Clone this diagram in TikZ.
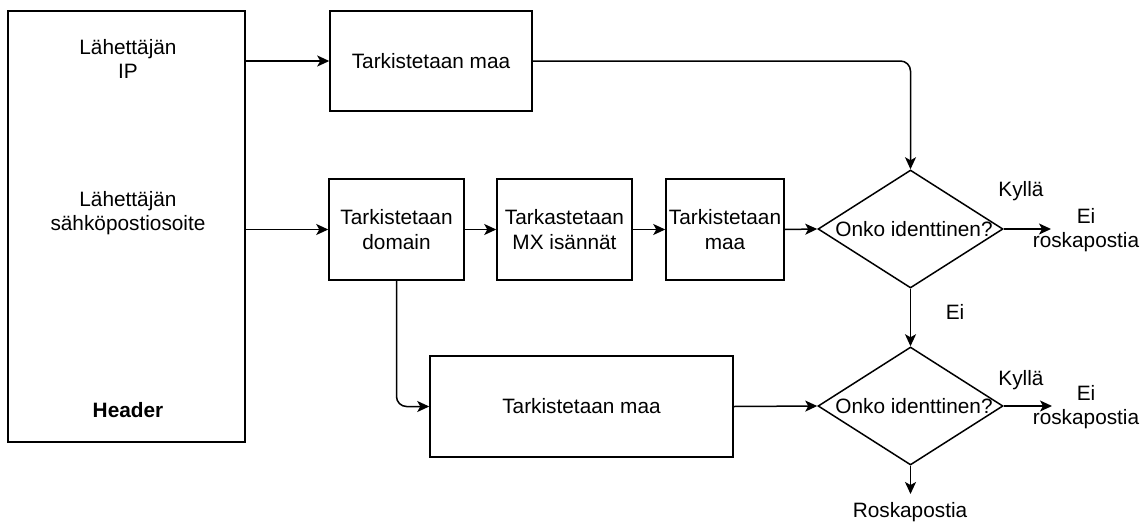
\documentclass[tikz,border=0pt]{standalone}
\usepackage{fontspec}
\setmainfont{Liberation Sans}
\usetikzlibrary{shapes.geometric,arrows.meta}
\begin{document}
\begin{tikzpicture}[x=1pt,y=-1pt, line width=1.5pt,
  font=\fontsize{20.8}{24.5}\selectfont,
  box/.style={draw, rectangle, inner sep=0pt, align=center},
  decide/.style={draw, diamond, inner sep=0pt, minimum width=185pt, minimum height=118pt},
  txt/.style={inner sep=0pt, align=center},
  flow/.style={-{Stealth[length=12pt,width=11pt,inset=3pt]}},
]
\useasboundingbox (0,0) rectangle (1148,525);

% sender header with its fields
\node[box, minimum width=237pt, minimum height=431pt] (hdr) at (126.5,226.5) {};
\node[txt] (ip) at (128,59) {Lähettäjän\\IP};
\node[txt] (mail) at (128,213) {Lähettäjän\\sähköpostiosoite};
\node[txt] (hlabel) at (128,410) {\bfseries Header};

% check boxes
\node[box, minimum width=202pt, minimum height=100pt] (top) at (431,61) {Tarkistetaan maa};
\node[box, minimum width=135pt, minimum height=101pt] (domain) at (396.5,229.5) {Tarkistetaan\\domain};
\node[box, minimum width=135pt, minimum height=101pt] (mx) at (564.5,229.5) {Tarkastetaan\\MX isännät};
\node[box, minimum width=118pt, minimum height=101pt] (maa) at (725,229.5) {Tarkistetaan\\maa};
\node[box, minimum width=303pt, minimum height=101pt] (bot) at (581.5,406.5) {Tarkistetaan maa};

% decisions
\node[decide] (d1) at (910.5,229) {\makebox[0pt]{\hspace{7pt}Onko identtinen?}};
\node[decide] (d2) at (910.5,406) {\makebox[0pt]{\hspace{7pt}Onko identtinen?}};

% outcomes
\node[txt] (ok1) at (1086,230) {Ei\\roskapostia};
\node[txt] (ok2) at (1086,407) {Ei\\roskapostia};
\node[txt] (spam) at (910,512) {Roskapostia};
\coordinate (e1) at (1051,229);
\coordinate (e2) at (1052,406);
\coordinate (e3) at (910.5,494);

% edge labels
\node[txt] (y1) at (1021,191) {Kyllä};
\node[txt] (y2) at (1021,380) {Kyllä};
\node[txt] (n1) at (955,312) {Ei};

% connectors
\draw[flow] (hdr.east |- top.west) -- (top.west);
\draw[flow] (hdr.east |- domain.west) -- (domain.west);
\draw[flow, rounded corners=10pt] (top.east) -| (d1.north);
\draw[flow] (domain) -- (mx);
\draw[flow] (mx) -- (maa);
\draw[flow] (maa.east) -- (d1.west);
\draw[flow] (d1.east) -- (e1);
\draw[flow] (d1.south) -- (d2.north);
\draw[flow, rounded corners=10pt] (domain.south) |- (bot.west);
\draw[flow] (bot.east) -- (d2.west);
\draw[flow] (d2.east) -- (e2);
\draw[flow] (d2.south) -- (e3);
\end{tikzpicture}
\end{document}
